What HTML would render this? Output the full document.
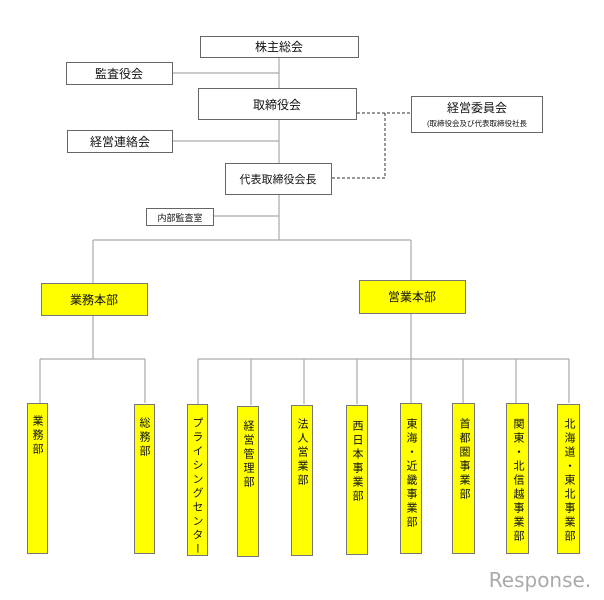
<!DOCTYPE html>
<html><head><meta charset="utf-8"><style>
html,body{margin:0;padding:0;background:#fff;}
svg{display:block}
text{font-family:"Liberation Sans","Noto Sans CJK JP",sans-serif;fill:#111;}
.v{writing-mode:vertical-rl;font-size:11px;letter-spacing:3px;}
</style></head><body>
<svg width="604" height="600" viewBox="0 0 604 600" xmlns="http://www.w3.org/2000/svg">
<g stroke="#aaa" stroke-width="1.2" fill="none">
<line x1="279" y1="57" x2="279" y2="240"/>
<line x1="173" y1="73" x2="279" y2="73"/>
<line x1="172" y1="141" x2="279" y2="141"/>
<line x1="213" y1="216" x2="279" y2="216"/>
<line x1="93" y1="240" x2="411" y2="240"/>
<line x1="93" y1="240" x2="93" y2="283"/>
<line x1="411" y1="240" x2="411" y2="280"/>
<line x1="93" y1="315" x2="93" y2="359"/>
<line x1="40" y1="359" x2="145" y2="359"/>
<line x1="40" y1="359" x2="40" y2="403"/>
<line x1="145" y1="359" x2="145" y2="403"/>
<line x1="411" y1="313" x2="411" y2="359"/>
<line x1="198" y1="359" x2="569" y2="359"/>
<line x1="198" y1="359" x2="198" y2="404"/>
<line x1="251" y1="359" x2="251" y2="405"/>
<line x1="304" y1="359" x2="304" y2="404"/>
<line x1="357" y1="359" x2="357" y2="404"/>
<line x1="411" y1="359" x2="411" y2="403"/>
<line x1="463" y1="359" x2="463" y2="403"/>
<line x1="516" y1="359" x2="516" y2="403"/>
<line x1="569" y1="359" x2="569" y2="403"/>
</g>
<g stroke="#333" stroke-width="1" fill="none" stroke-dasharray="3,2">
<polyline points="357,113 411,113"/>
<polyline points="385,113 385,178 331,178"/>
</g>
<g stroke="#666" stroke-width="1" fill="#fff">
<rect x="200.5" y="36.5" width="158" height="21"/>
<rect x="66.5" y="62.5" width="106" height="22"/>
<rect x="198.5" y="88.5" width="158" height="31"/>
<rect x="411.5" y="96.5" width="131" height="36"/>
<rect x="67.5" y="130.5" width="105" height="22"/>
<rect x="225.5" y="163.5" width="106" height="31"/>
<rect x="146.5" y="208.5" width="67" height="17"/>
</g>
<g font-size="12" text-anchor="middle">
<text x="279" y="51">株主総会</text>
<text x="119" y="78">監査役会</text>
<text x="277" y="109">取締役会</text>
<text x="477" y="112">経営委員会</text>
<text x="477" y="126" font-size="7.5">(取締役会及び代表取締役社長</text>
<text x="120" y="146">経営連絡会</text>
<text x="278" y="183" font-size="11">代表取締役会長</text>
<text x="180" y="221" font-size="9">内部監査室</text>
</g>
<g stroke="#777" stroke-width="1" fill="#ffff00">
<rect x="41.5" y="283.5" width="106" height="32"/>
<rect x="359.5" y="280.5" width="106" height="33"/>
<rect x="27.5" y="403.5" width="20" height="150"/>
<rect x="134.5" y="404.5" width="20" height="149"/>
<rect x="187.5" y="404.5" width="20" height="151"/>
<rect x="237.5" y="406.5" width="21" height="150"/>
<rect x="291.5" y="405.5" width="21" height="150"/>
<rect x="346.5" y="405.5" width="21" height="149"/>
<rect x="400.5" y="403.5" width="21" height="150"/>
<rect x="452.5" y="403.5" width="22" height="150"/>
<rect x="506.5" y="403.5" width="22" height="150"/>
<rect x="557.5" y="404.5" width="22" height="149"/>
</g>
<g font-size="12" text-anchor="middle">
<text x="94" y="304">業務本部</text>
<text x="412" y="301">営業本部</text>
</g>
<g class="v">
<text x="37" y="415">業務部</text>
<text x="144" y="417">総務部</text>
<text x="197" y="417">プライシングセンター</text>
<text x="248" y="420">経営管理部</text>
<text x="302" y="418">法人営業部</text>
<text x="357" y="420">西日本事業部</text>
<text x="411" y="418">東海・近畿事業部</text>
<text x="464" y="418">首都圏事業部</text>
<text x="518" y="418">関東・北信越事業部</text>
<text x="569" y="418">北海道・東北事業部</text>
</g>
<text x="540" y="587" text-anchor="middle" font-size="20" style="fill:#aaa;font-family:'DejaVu Sans',sans-serif">Response.</text>
</svg>
</body></html>
